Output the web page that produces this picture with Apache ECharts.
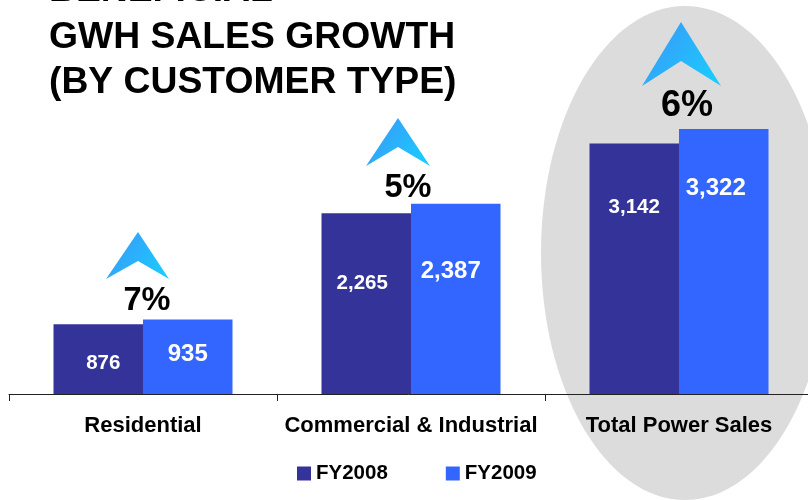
<!DOCTYPE html>
<html><head><meta charset="utf-8">
<style>html,body{margin:0;padding:0;background:#fff}#c{width:808px;height:500px;overflow:hidden}</style>
<script src="https://cdn.jsdelivr.net/npm/echarts@6/dist/echarts.min.js"></script>
</head><body><div id="c"></div>
<script>
const categories = ['Residential', 'Commercial & Industrial', 'Total Power Sales'];
const fy2008 = [876, 2265, 3142];
const fy2009 = [935, 2387, 3322];
const growth = ['7%', '5%', '6%'];
const titleLines = ['BENEFICIAL', 'GWH SALES GROWTH', '(BY CUSTOMER TYPE)'];

const FONT = '"Liberation Sans", Arial, sans-serif';
const chart = echarts.init(document.getElementById('c'), null, {renderer: 'canvas'});

const arrowGrad = new echarts.graphic.LinearGradient(0, 0, 1, 1, [
  {offset: 0, color: '#3d94f8'}, {offset: 1, color: '#17d0ff'}
]);
function arrow(pts) {
  return {type: 'polygon', z: 5, shape: {points: pts}, style: {fill: arrowGrad}};
}
function pct(text, x, y, size) {
  return {type: 'text', z: 5, x, y, style: {text, font: 'bold ' + size + 'px ' + FONT, fill: '#000', align: 'center', verticalAlign: 'middle'}};
}
const titleY = [9.5, 56, 101];
const titleEls = titleLines.map((t, i) => ({
  type: 'text', z: 5, x: 49, y: titleY[i],
  style: {text: t, font: 'bold 37.3px ' + FONT, fill: '#000', align: 'left', verticalAlign: 'bottom'}
}));

function labelled(values, size, offsets) {
  return values.map((v, i) => ({
    value: v,
    label: {show: true, position: 'inside', offset: offsets[i], color: '#fff', fontFamily: FONT, fontWeight: 'bold', fontSize: size,
      formatter: p => p.value.toLocaleString('en-US')}
  }));
}

chart.setOption({
  animation: false,
  backgroundColor: '#fff',
  grid: {left: 9, top: 75, width: 804, height: 319, containLabel: false, outerBoundsMode: 'none'},
  legend: {
    data: ['FY2008', 'FY2009'], left: 292, top: 458, itemWidth: 14, itemHeight: 14, itemGap: 58, icon: 'rect',
    textStyle: {fontFamily: FONT, fontWeight: 'bold', fontSize: 20.5, color: '#000', padding: [0, 0, 4, 0]}
  },
  xAxis: {
    type: 'category', data: categories,
    axisLine: {show: true, lineStyle: {color: '#222', width: 1}},
    axisTick: {show: true, length: 7, lineStyle: {color: '#222'}},
    axisLabel: {color: '#000', fontFamily: FONT, fontWeight: 'bold', fontSize: 22, margin: 21, interval: 0}
  },
  yAxis: {type: 'value', min: 0, max: 4000, show: false, splitLine: {show: false}},
  series: [
    {name: 'FY2008', type: 'bar', barWidth: 89.5, barGap: 0, itemStyle: {color: '#333399'},
     data: labelled(fy2008, 20.5, [[5, 4], [-4, -20], [0, -61]])},
    {name: 'FY2009', type: 'bar', barWidth: 89.5, barGap: 0, itemStyle: {color: '#3366ff'},
     data: labelled(fy2009, 24, [[0, -2], [-5, -27], [-8, -73]])}
  ],
  graphic: {elements: [
    {type: 'ellipse', z: 0, silent: true, shape: {cx: 685, cy: 253, rx: 144, ry: 247}, style: {fill: '#dcdcdc'}},
    arrow([[138, 232], [169, 279], [138, 261], [106, 279]]),
    arrow([[398, 118], [430, 166], [398, 147], [366, 166]]),
    arrow([[681, 22], [721, 86], [681, 61], [642, 86]]),
    pct(growth[0], 147, 301, 32.5),
    pct(growth[1], 408, 188, 32.5),
    pct(growth[2], 687, 106, 36),
    ...titleEls
  ]}
});
</script></body></html>
